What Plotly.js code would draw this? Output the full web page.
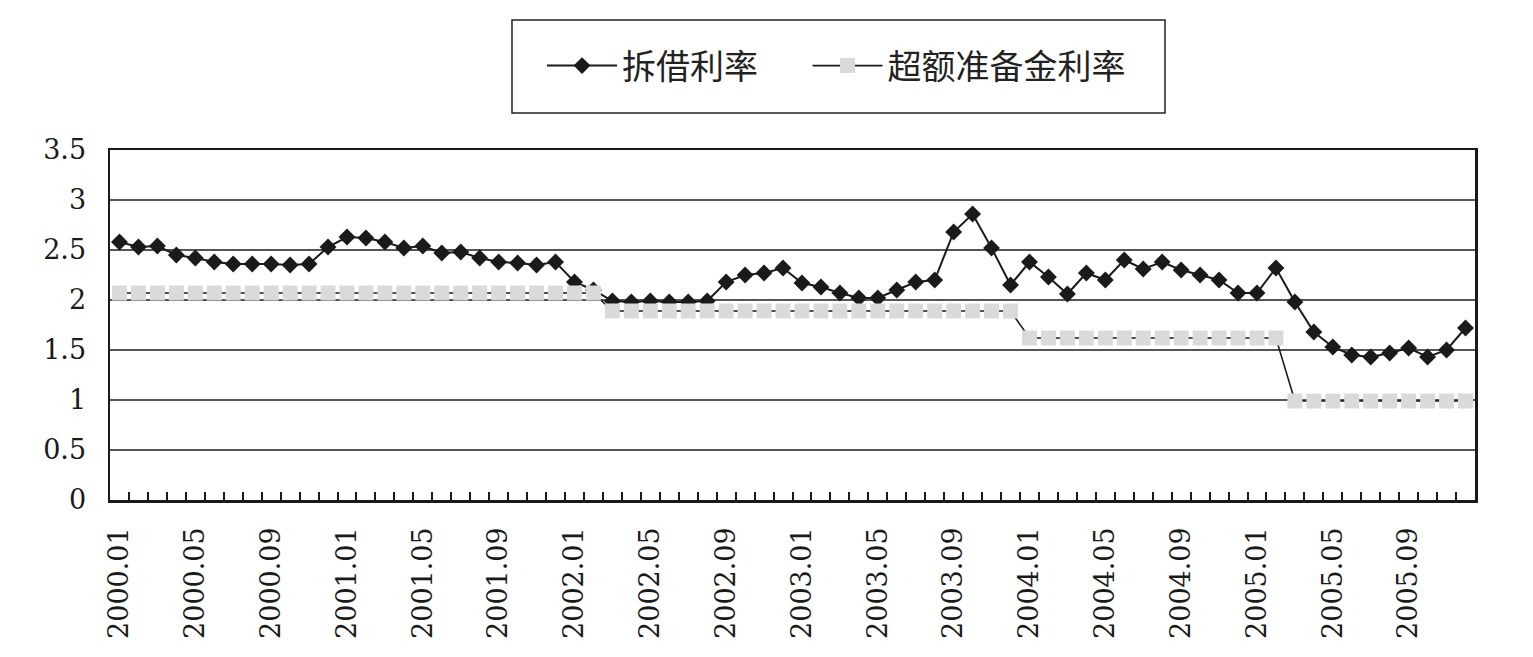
<!DOCTYPE html>
<html>
<head>
<meta charset="utf-8">
<script src="https://cdn.plot.ly/plotly-3.0.1.min.js"></script>
<style>
  html, body { margin: 0; padding: 0; background: #ffffff; }
  #chart { width: 1533px; height: 657px; }
</style>
</head>
<body>
<div id="chart"></div>
<script>
// Month categories
var months = [
  "2000.01","2000.02","2000.03","2000.04","2000.05","2000.06","2000.07","2000.08","2000.09","2000.10","2000.11","2000.12",
  "2001.01","2001.02","2001.03","2001.04","2001.05","2001.06","2001.07","2001.08","2001.09","2001.10","2001.11","2001.12",
  "2002.01","2002.02","2002.03","2002.04","2002.05","2002.06","2002.07","2002.08","2002.09","2002.10","2002.11","2002.12",
  "2003.01","2003.02","2003.03","2003.04","2003.05","2003.06","2003.07","2003.08","2003.09","2003.10","2003.11","2003.12",
  "2004.01","2004.02","2004.03","2004.04","2004.05","2004.06","2004.07","2004.08","2004.09","2004.10","2004.11","2004.12",
  "2005.01","2005.02","2005.03","2005.04","2005.05","2005.06","2005.07","2005.08","2005.09","2005.10","2005.11","2005.12"
];

// 拆借利率 (interbank lending rate)
var interbankRate = [
  2.58, 2.53, 2.54, 2.45, 2.42, 2.38, 2.36, 2.36, 2.36, 2.35, 2.36, 2.53,
  2.63, 2.62, 2.58, 2.52, 2.54, 2.47, 2.48, 2.42, 2.38, 2.37, 2.35, 2.38,
  2.18, 2.10, 1.99, 1.98, 1.99, 1.98, 1.98, 1.99, 2.18, 2.25, 2.27, 2.32,
  2.17, 2.13, 2.07, 2.02, 2.02, 2.10, 2.18, 2.20, 2.68, 2.86, 2.52, 2.15,
  2.38, 2.23, 2.06, 2.27, 2.20, 2.40, 2.31, 2.38, 2.30, 2.25, 2.20, 2.07,
  2.07, 2.32, 1.98, 1.68, 1.53, 1.45, 1.43, 1.47, 1.52, 1.43, 1.50, 1.72
];

// 超额准备金利率 (excess reserve rate)
var excessReserveRate = [
  2.07, 2.07, 2.07, 2.07, 2.07, 2.07, 2.07, 2.07, 2.07, 2.07, 2.07, 2.07,
  2.07, 2.07, 2.07, 2.07, 2.07, 2.07, 2.07, 2.07, 2.07, 2.07, 2.07, 2.07,
  2.07, 2.07, 1.89, 1.89, 1.89, 1.89, 1.89, 1.89, 1.89, 1.89, 1.89, 1.89,
  1.89, 1.89, 1.89, 1.89, 1.89, 1.89, 1.89, 1.89, 1.89, 1.89, 1.89, 1.89,
  1.62, 1.62, 1.62, 1.62, 1.62, 1.62, 1.62, 1.62, 1.62, 1.62, 1.62, 1.62,
  1.62, 1.62, 0.99, 0.99, 0.99, 0.99, 0.99, 0.99, 0.99, 0.99, 0.99, 0.99
];

var seriesNames = ["拆借利率", "超额准备金利率"];
var labelStep = 4;
var yTicks = [0, 0.5, 1, 1.5, 2, 2.5, 3, 3.5];

var serifFont = "DejaVu Serif";
var tickText = months.map(function (m, i) { return (i % labelStep === 0) ? m : ""; });

var traces = [
  {
    type: "scatter",
    mode: "lines+markers",
    name: seriesNames[0],
    legend: "legend",
    x: months,
    y: interbankRate,
    line: { color: "#1a1a1a", width: 2 },
    marker: { symbol: "diamond", size: 13, color: "#1a1a1a" },
    cliponaxis: false
  },
  {
    type: "scatter",
    mode: "lines+markers",
    name: seriesNames[1],
    legend: "legend2",
    x: months,
    y: excessReserveRate,
    line: { color: "#1a1a1a", width: 1.6 },
    marker: { symbol: "square", size: 15, color: "#dadada" },
    cliponaxis: false
  }
];

var legendFont = { family: "Noto Sans CJK SC", size: 34, color: "#222222" };

var layout = {
  width: 1533,
  height: 657,
  margin: { l: 110, r: 58, t: 150, b: 157 },
  paper_bgcolor: "#ffffff",
  plot_bgcolor: "#ffffff",
  showlegend: true,
  legend: {
    orientation: "h",
    x: 0.3165,
    xanchor: "left",
    y: 1.24,
    yanchor: "middle",
    font: legendFont,
    itemwidth: 70,
    borderwidth: 0,
    bgcolor: "rgba(0,0,0,0)"
  },
  legend2: {
    orientation: "h",
    x: 0.5110,
    xanchor: "left",
    y: 1.24,
    yanchor: "middle",
    font: legendFont,
    itemwidth: 70,
    borderwidth: 0,
    bgcolor: "rgba(0,0,0,0)"
  },
  shapes: [
    {
      type: "rect",
      xref: "paper", yref: "paper",
      x0: 0.2945, x1: 0.7729, y0: 1.1057, y1: 1.3714,
      line: { color: "#222222", width: 1.5 },
      fillcolor: "rgba(0,0,0,0)"
    }
  ],
  xaxis: {
    type: "category",
    tickmode: "array",
    tickvals: months,
    ticktext: tickText,
    tickson: "boundaries",
    ticks: "inside",
    ticklen: 8,
    tickwidth: 2,
    tickcolor: "#1a1a1a",
    tickangle: -90,
    ticklabelstandoff: 14,
    tickfont: { family: serifFont, size: 27, color: "#1a1a1a" },
    showgrid: false,
    showline: true,
    linecolor: "#1a1a1a",
    linewidth: 2.5,
    mirror: true,
    zeroline: false,
    range: [-0.5, months.length - 0.5]
  },
  yaxis: {
    range: [0, 3.5],
    tickmode: "array",
    tickvals: yTicks,
    ticktext: yTicks.map(String),
    ticks: "",
    ticklabelstandoff: 16,
    tickfont: { family: serifFont, size: 27, color: "#1a1a1a" },
    showgrid: true,
    gridcolor: "#555555",
    gridwidth: 1.3,
    showline: true,
    linecolor: "#1a1a1a",
    linewidth: 2.5,
    mirror: true,
    zeroline: false
  }
};

Plotly.newPlot("chart", traces, layout, { displayModeBar: false, staticPlot: true });
</script>
</body>
</html>
